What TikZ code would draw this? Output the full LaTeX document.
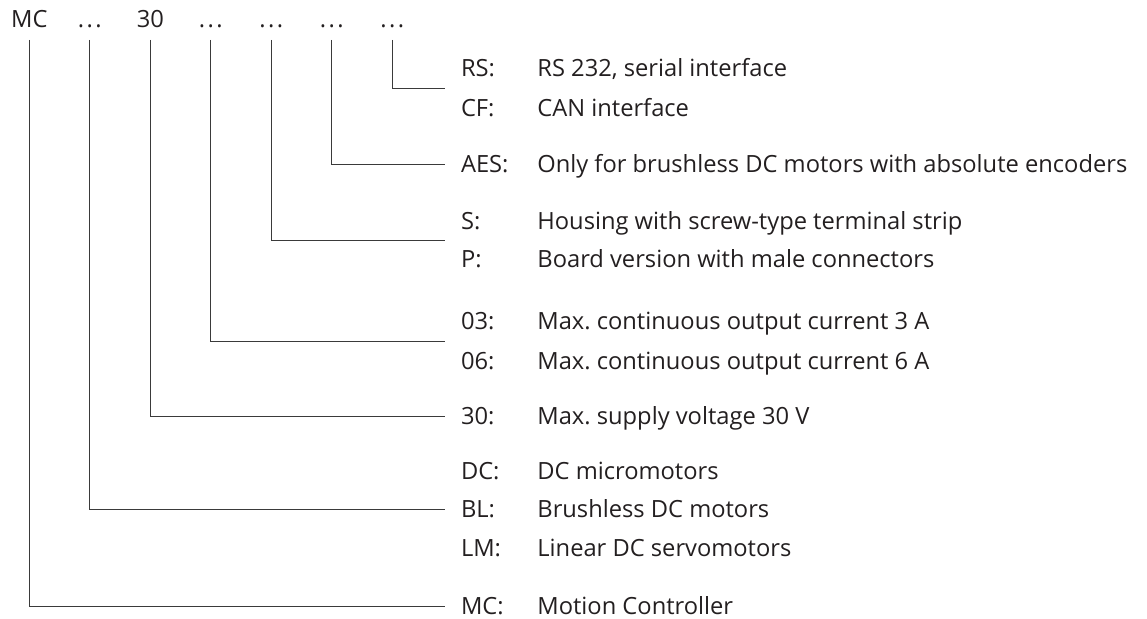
\documentclass[tikz,border=0pt]{standalone}
\usepackage{fontspec}
\setmainfont{Open Sans}
\usetikzlibrary{calc}
\definecolor{ink}{HTML}{231F20}
\definecolor{wire}{HTML}{3A3A3A}
\frenchspacing
\newcommand{\opendots}{.\kern1.2pt.\kern1.2pt.}

\begin{document}
\begin{tikzpicture}[x=0.5pt,y=-0.5pt,
  every node/.style={font=\fontsize{11.85}{14}\selectfont,text=ink,inner sep=0pt},
  head/.style={anchor=base,outer ysep=6pt,text depth=0pt},
  code/.style={anchor=base west,outer xsep=8pt,text height=8.5pt,text depth=0pt},
  desc/.style={anchor=base west},
  wire/.style={draw=wire,line width=0.5pt}]
  \useasboundingbox (0,0) rectangle (1147,619);

  % Header: type code
  \node[head] (hmc)   at (29.3,28)  {MC};
  \node[head] (hmot)  at (89.8,28)  {\opendots};
  \node[head] (hvolt) at (150.3,28) {30};
  \node[head] (hcur)  at (210.8,28) {\opendots};
  \node[head] (hhous) at (271.3,28) {\opendots};
  \node[head] (henc)  at (331.8,28) {\opendots};
  \node[head] (hbus)  at (392.3,28) {\opendots};

  % Option rows
  \node[code] (rs)  at (445,77)  {RS:};
  \node[desc] (rsd) at (537,77)  {RS 232, serial interface};
  \node[code] (cf)  at (445,117) {CF:};
  \node[desc] (cfd) at (537,117) {CAN interface};

  \node[code] (aes)  at (445,173) {AES:};
  \node[desc] (aesd) at (537,173) {Only for brushless DC motors with absolute encoders};

  \node[code] (s)  at (445,230) {S:};
  \node[desc] (sd) at (537,230) {Housing with screw-type terminal strip};
  \node[code] (p)  at (445,268) {P:};
  \node[desc] (pd) at (537,268) {Board version with male connectors};

  \node[code] (c03)  at (445,330) {03:};
  \node[desc] (c03d) at (537,330) {Max. continuous output current 3 A};
  \node[code] (c06)  at (445,370) {06:};
  \node[desc] (c06d) at (537,370) {Max. continuous output current 6 A};

  \node[code] (v30)  at (445,425) {30:};
  \node[desc] (v30d) at (537,425) {Max. supply voltage 30 V};

  \node[code] (dc)  at (445,480) {DC:};
  \node[desc] (dcd) at (537,480) {DC micromotors};
  \node[code] (bl)  at (445,518) {BL:};
  \node[desc] (bld) at (537,518) {Brushless DC motors};
  \node[code] (lm)  at (445,557) {LM:};
  \node[desc] (lmd) at (537,557) {Linear DC servomotors};

  \node[code] (mc)  at (445,615) {MC:};
  \node[desc] (mcd) at (537,615) {Motion Controller};

  % Connectors
  \draw[wire] (hbus.south) |- ($(rs.west)!0.5!(cf.west)$);
  \draw[wire] (henc.south) |- (aes.west);
  \draw[wire] (hhous.south) |- ($(s.west)!0.5!(p.west)$);
  \draw[wire] (hcur.south) |- ($(c03.west)!0.5!(c06.west)$);
  \draw[wire] (hvolt.south) |- (v30.west);
  \draw[wire] (hmot.south) |- (bl.west);
  \draw[wire] (hmc.south) |- (mc.west);
\end{tikzpicture}
\end{document}
